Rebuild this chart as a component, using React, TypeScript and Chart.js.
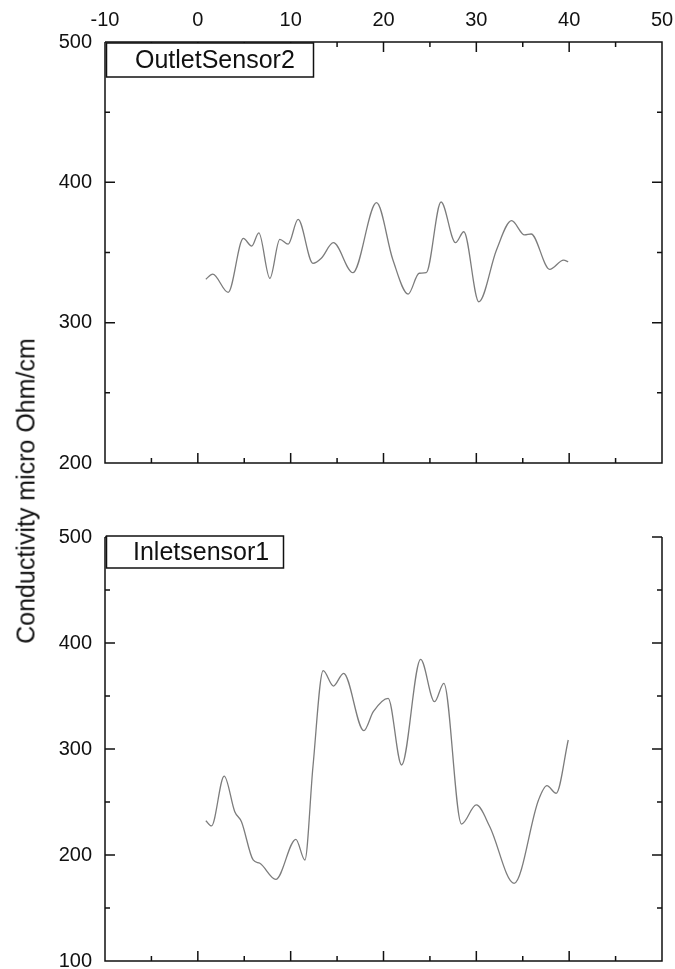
import React, { useEffect, useRef } from "react";
import { Chart, registerables } from "chart.js";

Chart.register(...registerables);

// ---- data ----
const xTicksTop = [-10, 0, 10, 20, 30, 40, 50];

const outletX = [0.86, 1.6, 3.27, 4.9, 5.8, 6.57, 7.76, 8.83, 9.73, 10.8, 12.4, 13.3, 14.6, 16.7, 19.25, 21.0, 22.66, 23.84, 24.6, 26.2, 27.76, 28.65, 30.27, 32.17, 33.8, 35.2, 35.9, 37.9, 39.4, 39.9];
const outletY = [331, 334.6, 321.6, 360, 354.6, 364, 331.6, 359.4, 356, 373.6, 342.3, 345.9, 357, 335.6, 385.5, 345, 320.4, 335.2, 335.6, 386, 357, 364.8, 314.9, 351.8, 372.7, 362.5, 363.2, 338, 344.6, 343.4];

const inletX = [0.86, 1.47, 2.84, 3.98, 4.7, 5.96, 6.68, 8.4, 10.56, 11.53, 12.4, 13.5, 14.6, 15.7, 17.88, 18.9, 20.5, 21.95, 24.0, 25.5, 26.5, 28.4, 30.0, 31.45, 34.07, 36.7, 37.6, 38.6, 39.9];
const inletY = [232.4, 227.4, 274.5, 240.9, 231.4, 195.3, 192.2, 177, 214.8, 195.3, 283.3, 373.9, 359.4, 371.4, 317.3, 335.2, 347.8, 284.9, 384.6, 344.6, 362, 229.2, 247.2, 226.7, 173.3, 251.9, 265.4, 258.2, 308.5];

const topLabel = "OutletSensor2";
const bottomLabel = "Inletsensor1";
const yTitle = "Conductivity micro Ohm/cm";

const FONT = "'Liberation Sans', Arial, sans-serif";
const INK = "#111";
const LINE = "#7c7c7c";

type FrameOpts = {
  drawTop: boolean;
  label: string;
  boxW: number;
  boxH: number;
  boxDy: number;
  textDx: number;
};

const framePlugin = {
  id: "frame",
  afterDraw(chart: any, _args: any, opts: FrameOpts) {
    const { ctx } = chart;
    const { left, right, top, bottom } = chart.chartArea;
    const xs = chart.scales.x;
    const ys = chart.scales.y;
    ctx.save();
    ctx.strokeStyle = INK;
    ctx.lineWidth = 1.5;
    ctx.beginPath();
    ctx.moveTo(left, top);
    ctx.lineTo(left, bottom);
    ctx.lineTo(right, bottom);
    ctx.lineTo(right, top);
    if (opts.drawTop) ctx.lineTo(left, top);
    for (let v = xs.min; v <= xs.max + 1e-6; v += 5) {
      const px = xs.getPixelForValue(v);
      const len = Math.abs(v % 10) < 1e-6 ? 10 : 5;
      ctx.moveTo(px, bottom);
      ctx.lineTo(px, bottom - len);
      if (opts.drawTop) {
        ctx.moveTo(px, top);
        ctx.lineTo(px, top + len);
      }
    }
    for (let v = ys.min; v <= ys.max + 1e-6; v += 50) {
      const py = ys.getPixelForValue(v);
      const len = Math.abs(v % 100) < 1e-6 ? 10 : 5;
      ctx.moveTo(left, py);
      ctx.lineTo(left + len, py);
      ctx.moveTo(right, py);
      ctx.lineTo(right - len, py);
    }
    ctx.stroke();
    const bx = left + 1.5;
    const by = top + opts.boxDy;
    ctx.fillStyle = "#fff";
    ctx.fillRect(bx, by, opts.boxW, opts.boxH);
    ctx.lineWidth = 1.5;
    ctx.strokeRect(bx, by, opts.boxW, opts.boxH);
    ctx.fillStyle = INK;
    ctx.font = `25px ${FONT}`;
    ctx.textBaseline = "middle";
    ctx.textAlign = "left";
    ctx.fillText(opts.label, left + opts.textDx, by + opts.boxH / 2 + 1);
    ctx.restore();
  },
};

function makeConfig(
  xs: number[],
  ys: number[],
  yMin: number,
  yMax: number,
  showX: boolean,
  padding: any,
  frame: FrameOpts
): any {
  return {
    type: "line",
    data: {
      datasets: [
        {
          data: xs.map((x, i) => ({ x, y: ys[i] })),
          borderColor: LINE,
          borderWidth: 1.3,
          pointRadius: 0,
          fill: false,
          cubicInterpolationMode: "monotone",
        },
      ],
    },
    options: {
      responsive: false,
      animation: false,
      layout: { padding },
      plugins: {
        legend: { display: false },
        tooltip: { enabled: false },
        frame,
      },
      scales: {
        x: {
          type: "linear",
          position: "top",
          display: showX,
          min: xTicksTop[0],
          max: xTicksTop[xTicksTop.length - 1],
          afterBuildTicks: (s: any) => {
            s.ticks = xTicksTop.map((v) => ({ value: v }));
          },
          afterFit: (s: any) => {
            s.height = showX ? 42 : 0;
            s.paddingLeft = 0;
            s.paddingRight = 0;
          },
          grid: { display: false, drawTicks: false },
          border: { display: false },
          ticks: {
            padding: 10,
            maxRotation: 0,
            autoSkip: false,
            color: INK,
            font: { family: FONT, size: 20 },
          },
        },
        y: {
          type: "linear",
          min: yMin,
          max: yMax,
          afterFit: (s: any) => {
            s.width = 105;
            s.paddingTop = 0;
            s.paddingBottom = 0;
          },
          grid: { display: false, drawTicks: false },
          border: { display: false },
          ticks: {
            stepSize: 100,
            padding: 13,
            color: INK,
            font: { family: FONT, size: 20 },
          },
        },
      },
    },
    plugins: [framePlugin],
  };
}

export default function App() {
  const topRef = useRef<HTMLCanvasElement>(null);
  const botRef = useRef<HTMLCanvasElement>(null);

  useEffect(() => {
    const c1 = new Chart(
      topRef.current as HTMLCanvasElement,
      makeConfig(outletX, outletY, 200, 500, true, { left: 0, top: 0, right: 13, bottom: 22 }, {
        drawTop: true,
        label: topLabel,
        boxW: 207,
        boxH: 34,
        boxDy: 1,
        textDx: 30,
      })
    );
    const c2 = new Chart(
      botRef.current as HTMLCanvasElement,
      makeConfig(inletX, inletY, 100, 500, false, { left: 0, top: 52, right: 13, bottom: 8 }, {
        drawTop: false,
        label: bottomLabel,
        boxW: 177,
        boxH: 32,
        boxDy: -1,
        textDx: 28,
      })
    );
    return () => {
      c1.destroy();
      c2.destroy();
    };
  }, []);

  return (
    <div style={{ position: "absolute", left: 0, top: 0, width: 675, height: 969, background: "#fff" }}>
      <canvas ref={topRef} width={675} height={485} style={{ position: "absolute", left: 0, top: 0 }} />
      <canvas ref={botRef} width={675} height={484} style={{ position: "absolute", left: 0, top: 485 }} />
      <div
        style={{
          position: "absolute",
          left: 26,
          top: 491,
          transform: "translate(-50%, -50%) rotate(-90deg)",
          whiteSpace: "nowrap",
          fontFamily: FONT,
          fontSize: 25,
          color: INK,
        }}
      >
        {yTitle}
      </div>
    </div>
  );
}
